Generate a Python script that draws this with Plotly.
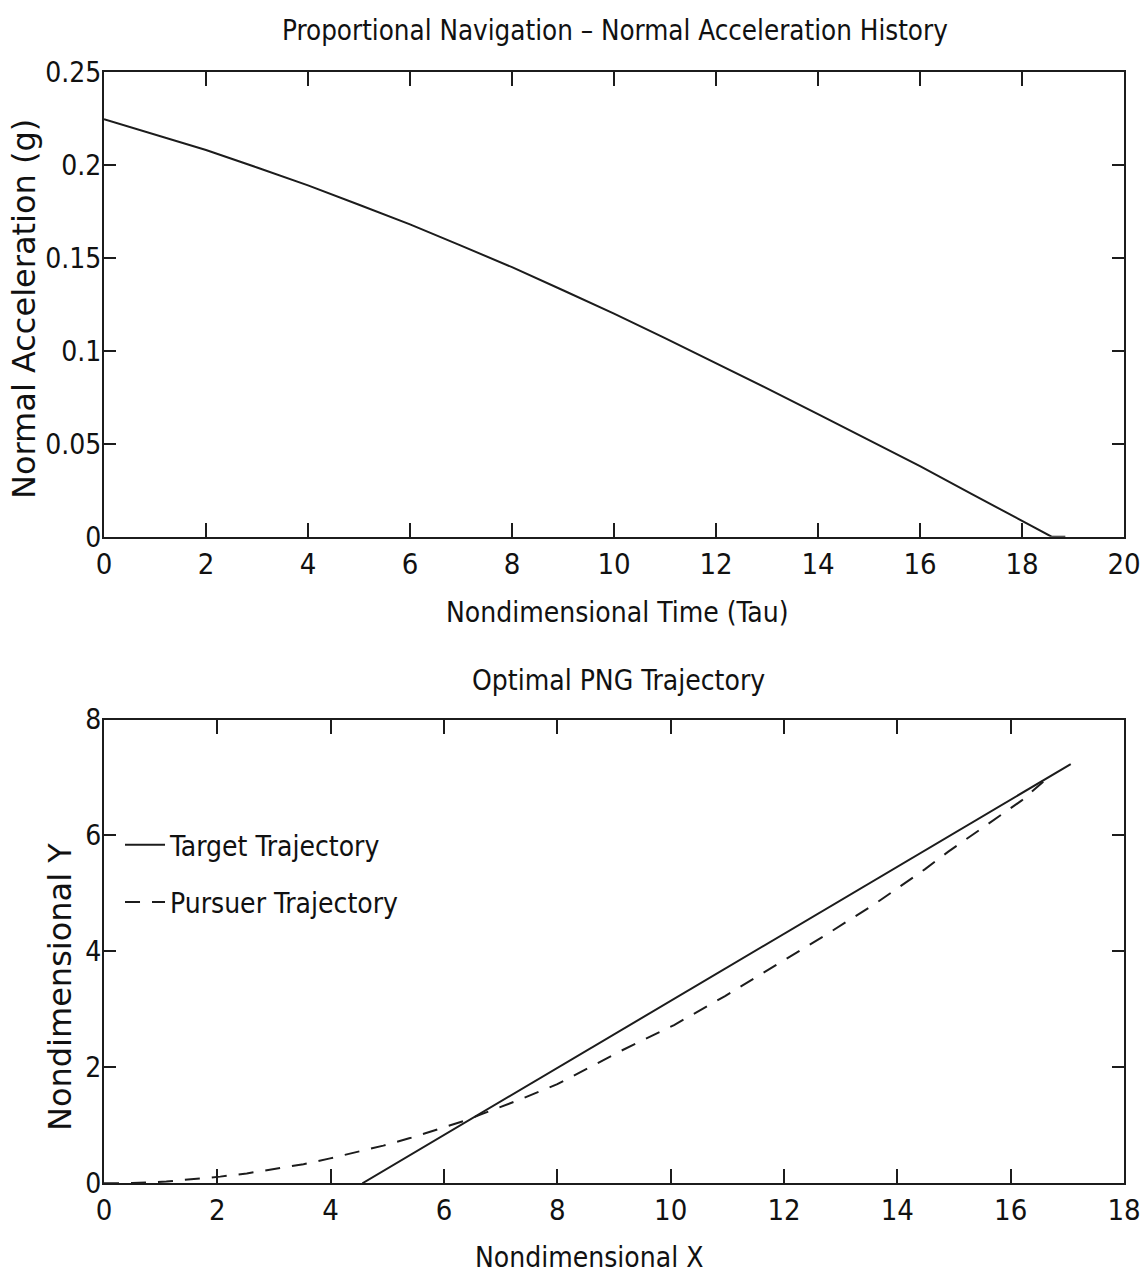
import plotly.graph_objects as go

# ---- Data: top panel (normal acceleration history) ----
tau = [0, 1, 2, 3, 4, 5, 6, 7, 8, 9, 10, 11, 12, 13, 14, 15, 16, 17, 18, 18.58, 18.85]
accel_g = [0.2244, 0.2163, 0.2079, 0.1985, 0.1889, 0.1785, 0.1679, 0.1565, 0.1449, 0.1325,
           0.1199, 0.1068, 0.0934, 0.0797, 0.0659, 0.0519, 0.0379, 0.0232, 0.0085, 0.0, 0.0]

# ---- Data: bottom panel (trajectories) ----
target_x = [4.56, 17.06]
target_y = [0.0, 7.23]

pursuer_x = [0, 0.5, 1.1, 1.58, 2.05, 2.52, 2.99, 3.52, 3.99, 4.46, 4.93, 5.4, 5.9, 6.4, 6.63,
             7.3, 8.0, 9.135, 10.06, 10.96, 11.85, 12.73, 13.62, 14.49, 14.9, 15.34, 15.76,
             16.19, 16.66]
pursuer_y = [0, 0.005, 0.03, 0.07, 0.115, 0.17, 0.25, 0.33, 0.43, 0.54, 0.65, 0.78, 0.93, 1.09, 1.18,
             1.43, 1.71, 2.29, 2.73, 3.23, 3.76, 4.28, 4.83, 5.42, 5.72, 6.02, 6.30,
             6.60, 7.0]

x1_ticks = [0, 2, 4, 6, 8, 10, 12, 14, 16, 18, 20]
y1_ticks = [0, 0.05, 0.1, 0.15, 0.2, 0.25]
x2_ticks = [0, 2, 4, 6, 8, 10, 12, 14, 16, 18]
y2_ticks = [0, 2, 4, 6, 8]

W, H = 1148, 1279
NARROW = "DejaVu Sans Condensed, Liberation Sans, sans-serif"
WIDE = "DejaVu Sans, Liberation Sans, sans-serif"
INK = "#1c1c1c"
TXT = "#111"

fig = go.Figure()
fig.add_trace(go.Scatter(x=tau, y=accel_g, mode="lines", line=dict(color=INK, width=2),
                         showlegend=False, xaxis="x", yaxis="y"))
fig.add_trace(go.Scatter(x=target_x, y=target_y, mode="lines", name="Target Trajectory",
                         line=dict(color=INK, width=2), legendgroup="a",
                         xaxis="x2", yaxis="y2"))
fig.add_trace(go.Scatter(x=pursuer_x, y=pursuer_y, mode="lines", name="Pursuer Trajectory",
                         line=dict(color=INK, width=2, dash="15px,12px"), legendgroup="b",
                         xaxis="x2", yaxis="y2"))

def dom(top_px, bot_px):
    return [1 - bot_px / H, 1 - top_px / H]

axis_common = dict(showline=True, linewidth=2, linecolor=INK, mirror="ticks", ticks="inside",
                   tickwidth=2, tickcolor=INK, showgrid=False, zeroline=False, automargin=False)
xfont = dict(family=NARROW, size=29, color=TXT)
yfont = dict(family=NARROW, size=28, color=TXT)

fig.update_layout(
    template="none",
    width=W, height=H,
    margin=dict(l=104, r=24, t=0, b=0, autoexpand=False),
    paper_bgcolor="white", plot_bgcolor="white",
    xaxis=dict(domain=[0, 1], range=[0, 20], tickvals=x1_ticks, ticklen=14, anchor="y",
               ticklabelstandoff=0, tickfont=xfont, **axis_common),
    yaxis=dict(domain=dom(71.7, 536.7), range=[0, 0.25], tickvals=y1_ticks, ticklen=12,
               anchor="x", ticklabelstandoff=-5, tickfont=yfont, **axis_common),
    xaxis2=dict(domain=[0, 1], range=[0, 18], tickvals=x2_ticks, ticklen=14, anchor="y2",
                ticklabelstandoff=0, tickfont=xfont, **axis_common),
    yaxis2=dict(domain=dom(719.5, 1183.3), range=[0, 8], tickvals=y2_ticks, ticklen=12,
                anchor="x2", ticklabelstandoff=-5, tickfont=yfont, **axis_common),
    showlegend=True,
    legend=dict(x=0.0157, y=1 - 820 / H, xanchor="left", yanchor="top", bgcolor="rgba(0,0,0,0)",
                font=dict(family=NARROW, size=28, color=TXT), itemwidth=40,
                traceorder="grouped", tracegroupgap=18),
)

def ann(text, xpx, ypx, size, family, angle=0):
    fig.add_annotation(text=text, xref="paper", yref="paper",
                       x=(xpx - 104) / (W - 128), y=1 - ypx / H,
                       xanchor="center", yanchor="middle", showarrow=False, textangle=angle,
                       font=dict(family=family, size=size, color=TXT))

ann("Proportional Navigation – Normal Acceleration History", 615, 30, 27.5, NARROW)
ann("Nondimensional Time (Tau)", 617, 612, 28, NARROW)
ann("Normal Acceleration (g)", 24, 309, 32, WIDE, -90)
ann("Optimal PNG Trajectory", 618, 680, 28, NARROW)
ann("Nondimensional X", 589, 1257, 28, NARROW)
ann("Nondimensional Y", 60, 987, 32, WIDE, -90)

fig.write_html("out.html")
